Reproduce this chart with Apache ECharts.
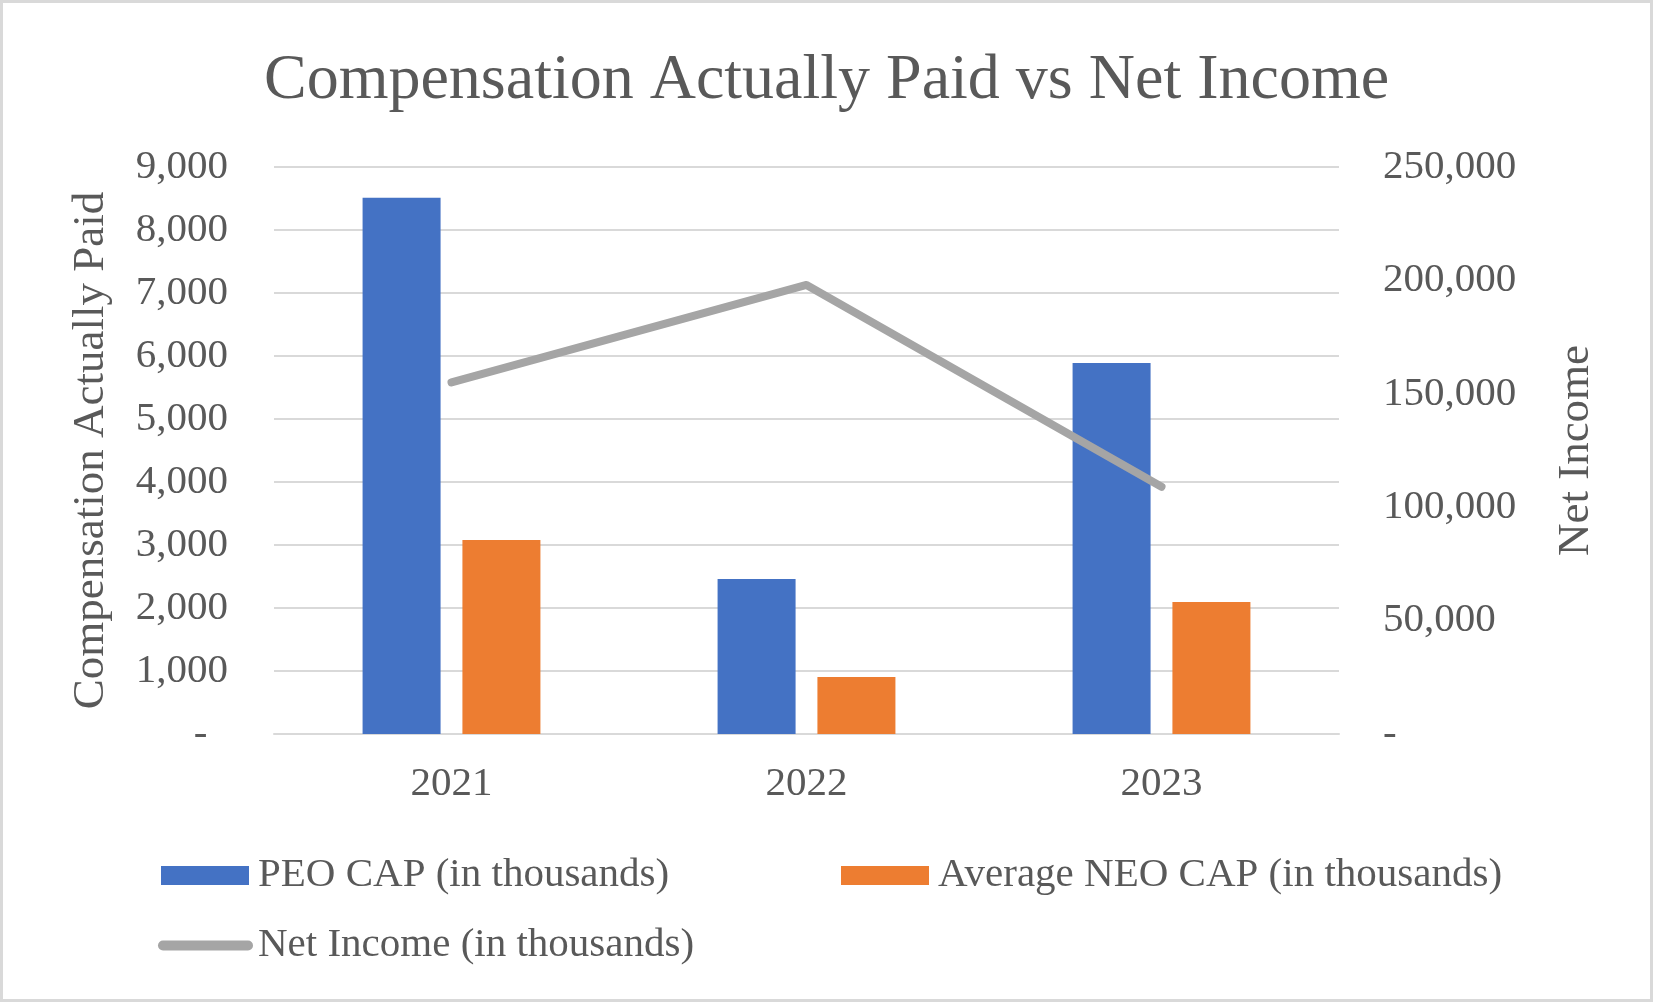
<!DOCTYPE html>
<html>
<head>
<meta charset="utf-8">
<script src="https://cdn.jsdelivr.net/npm/echarts@6/dist/echarts.min.js"></script>
<style>
  html, body { margin: 0; padding: 0; background: #fff; }
  #wrap { width: 1653px; height: 1002px; box-sizing: border-box; border: 3px solid #d9d9d9; }
  #chart { width: 1647px; height: 996px; }
</style>
</head>
<body>
<div id="wrap"><div id="chart"></div></div>
<script>
var years = ['2021', '2022', '2023'];
var peoCap = [8510, 2460, 5890];
var neoCap = [3080, 905, 2095];
var netIncome = [155000, 198000, 109000];

var textColor = '#595959';
var font = 'Liberation Serif, Times New Roman, serif';

var chart = echarts.init(document.getElementById('chart'));

function fmt(v) {
  return v.toString().replace(/\B(?=(\d{3})+(?!\d))/g, ',');
}

// chart is drawn inside a 3px border, so offsets are shifted by 3
var option = {
  backgroundColor: '#fff',
  animation: false,
  textStyle: { fontFamily: font, color: textColor },
  title: {
    text: 'Compensation Actually Paid vs Net Income',
    left: 'center',
    top: 41,
    textStyle: { fontFamily: font, fontSize: 64, fontWeight: 'normal', color: textColor }
  },
  legend: [
    {
      data: ['PEO CAP (in thousands)'],
      left: 153, top: 847,
      itemWidth: 88, itemHeight: 19,
      icon: 'rect',
      textStyle: { fontFamily: font, fontSize: 41, color: textColor, padding: [0, 0, 0, 4] }
    },
    {
      data: ['Average NEO CAP (in thousands)'],
      left: 833, top: 847,
      itemWidth: 88, itemHeight: 19,
      icon: 'rect',
      textStyle: { fontFamily: font, fontSize: 41, color: textColor, padding: [0, 0, 0, 4] }
    },
    {
      data: ['Net Income (in thousands)'],
      left: 150, top: 917,
      itemWidth: 95, itemHeight: 10,
      icon: 'path://M5,0 L90,0 A5,5 0 0 1 90,10 L5,10 A5,5 0 0 1 5,0 Z',
      textStyle: { fontFamily: font, fontSize: 41, color: textColor }
    }
  ],
  grid: {
    left: 271,
    right: 311,
    top: 164,
    bottom: 265
  },
  xAxis: {
    type: 'category',
    data: years,
    boundaryGap: true,
    axisTick: { show: false },
    axisLine: { lineStyle: { color: '#d9d9d9', width: 2 } },
    axisLabel: { margin: 30, fontFamily: font, fontSize: 41, color: textColor }
  },
  yAxis: [
    {
      type: 'value',
      min: 0, max: 9000, interval: 1000,
      name: 'Compensation Actually Paid',
      nameLocation: 'middle',
      nameRotate: 90,
      nameGap: 160,
      nameTextStyle: { fontFamily: font, fontSize: 45, color: textColor },
      axisLine: { show: false },
      axisTick: { show: false },
      splitLine: { lineStyle: { color: '#d9d9d9', width: 2 } },
      axisLabel: {
        margin: 46, fontFamily: font, fontSize: 41, color: textColor,
        formatter: function (v) { return v === 0 ? '-  ' : fmt(v); }
      }
    },
    {
      type: 'value',
      min: 0, max: 250000, interval: 50000,
      name: 'Net Income',
      nameLocation: 'middle',
      nameRotate: 90,
      nameGap: 215,
      nameTextStyle: { fontFamily: font, fontSize: 45, color: textColor },
      axisLine: { show: false },
      axisTick: { show: false },
      splitLine: { show: false },
      axisLabel: {
        margin: 44, fontFamily: font, fontSize: 41, color: textColor,
        formatter: function (v) { return v === 0 ? '-' : fmt(v); }
      }
    }
  ],
  series: [
    {
      name: 'PEO CAP (in thousands)',
      type: 'bar',
      data: peoCap,
      barWidth: 78,
      barGap: '28%',
      itemStyle: { color: '#4472c4' }
    },
    {
      name: 'Average NEO CAP (in thousands)',
      type: 'bar',
      data: neoCap,
      barWidth: 78,
      barGap: '28%',
      itemStyle: { color: '#ed7d31' }
    },
    {
      name: 'Net Income (in thousands)',
      type: 'line',
      yAxisIndex: 1,
      data: netIncome,
      symbol: 'none',
      itemStyle: { color: '#a5a5a5' },
      lineStyle: { color: '#a5a5a5', width: 8, cap: 'round', join: 'round' }
    }
  ]
};

chart.setOption(option);
</script>
</body>
</html>
